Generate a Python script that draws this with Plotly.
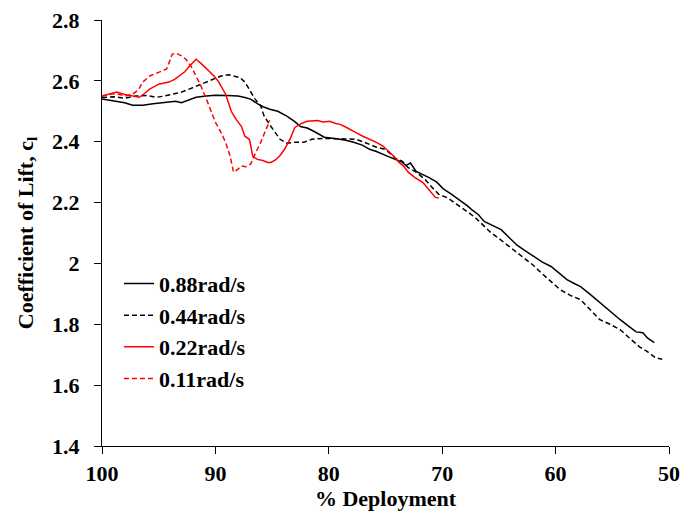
import plotly.graph_objects as go

# 0.88 rad/s (black solid)
x_088 = [100, 99, 98, 97.3, 96.4, 95.5, 94.5, 93.5, 93.0, 92.4, 91.7, 90.8, 90, 89, 88, 87.4, 86.9, 86.3, 85.8, 85.2, 84.5, 83.7, 83.0, 82.5, 81.9, 81.2, 80.4, 79.3, 78.5, 77.8, 77.0, 76.4, 75.8, 75.0, 74.3, 73.5, 73.2, 72.8, 72.3, 71.7, 71.2, 70.5, 69.9, 69.2, 68.5, 67.8, 67.4, 66.8, 66.3, 65.5, 64.8, 64.1, 63.4, 62.6, 61.9, 61.2, 60.4, 59.7, 59.0, 58.4, 57.8, 57.0, 56.1, 55.2, 54.3, 53.6, 52.9, 52.3, 51.9, 51.3]
y_088 = [2.54, 2.535, 2.528, 2.52, 2.52, 2.525, 2.53, 2.533, 2.528, 2.537, 2.546, 2.55, 2.553, 2.552, 2.55, 2.545, 2.54, 2.525, 2.515, 2.507, 2.5, 2.484, 2.466, 2.45, 2.445, 2.432, 2.415, 2.41, 2.405, 2.398, 2.388, 2.375, 2.368, 2.355, 2.345, 2.332, 2.322, 2.33, 2.302, 2.293, 2.283, 2.268, 2.245, 2.228, 2.21, 2.19, 2.177, 2.16, 2.138, 2.125, 2.111, 2.085, 2.06, 2.04, 2.022, 2.005, 1.99, 1.968, 1.947, 1.935, 1.924, 1.9, 1.871, 1.843, 1.815, 1.795, 1.775, 1.772, 1.755, 1.74]

# 0.44 rad/s (black dashed)
x_044 = [100, 99, 98, 97, 96, 95.2, 94.5, 93.8, 93.0, 92.3, 91.5, 90.9, 90.2, 89.5, 88.8, 88.3, 87.8, 87.4, 87.0, 86.5, 86.0, 85.7, 85.1, 84.6, 84.3, 83.7, 83.0, 82.2, 81.5, 80.4, 79.5, 78.7, 77.6, 77.0, 76.4, 75.8, 75.0, 74.5, 74.1, 73.5, 73.0, 72.3, 71.5, 70.9, 70.3, 69.5, 68.9, 68.3, 67.6, 67.1, 66.4, 65.7, 65.0, 64.3, 63.5, 62.8, 62.0, 61.3, 60.5, 59.6, 58.7, 57.8, 57.0, 56.1, 55.2, 54.3, 53.5, 52.6, 51.9, 51.2, 50.6]
y_044 = [2.545, 2.548, 2.543, 2.55, 2.552, 2.546, 2.55, 2.556, 2.563, 2.573, 2.585, 2.596, 2.607, 2.616, 2.62, 2.616, 2.61, 2.596, 2.572, 2.54, 2.517, 2.484, 2.45, 2.425, 2.408, 2.395, 2.398, 2.398, 2.408, 2.411, 2.41, 2.408, 2.408, 2.4, 2.39, 2.382, 2.375, 2.36, 2.345, 2.335, 2.315, 2.30, 2.276, 2.25, 2.227, 2.215, 2.2, 2.184, 2.165, 2.151, 2.125, 2.101, 2.082, 2.062, 2.04, 2.019, 1.995, 1.97, 1.945, 1.914, 1.895, 1.881, 1.85, 1.815, 1.8, 1.782, 1.755, 1.726, 1.71, 1.69, 1.685]

# 0.22 rad/s (red solid)
x_022 = [100, 99.3, 98.7, 98.0, 97.3, 96.7, 96.2, 95.8, 95.0, 94.1, 93.6, 93.2, 92.7, 92.3, 91.9, 91.7, 91.2, 90.6, 90.1, 89.7, 89.1, 88.6, 88.2, 87.7, 87.4, 87.0, 86.7, 86.3, 85.8, 85.4, 85.1, 84.7, 84.3, 83.9, 83.4, 83.0, 82.4, 81.9, 81.0, 80.5, 79.9, 79.4, 79.0, 78.6, 78.2, 77.6, 77.0, 76.4, 75.8, 75.2, 74.7, 74.2, 73.8, 73.4, 73.0, 72.4, 71.7, 71.1, 70.6, 70.3]
y_022 = [2.55, 2.558, 2.563, 2.555, 2.55, 2.546, 2.56, 2.573, 2.589, 2.596, 2.605, 2.616, 2.63, 2.648, 2.662, 2.671, 2.655, 2.632, 2.615, 2.596, 2.556, 2.50, 2.475, 2.45, 2.418, 2.408, 2.352, 2.342, 2.338, 2.332, 2.332, 2.34, 2.355, 2.375, 2.41, 2.447, 2.46, 2.467, 2.47, 2.465, 2.467, 2.46, 2.457, 2.45, 2.441, 2.43, 2.418, 2.408, 2.398, 2.385, 2.368, 2.35, 2.332, 2.32, 2.30, 2.282, 2.266, 2.24, 2.217, 2.215]

# 0.11 rad/s (red dashed)
x_011 = [100, 99.3, 98.7, 98.0, 97.3, 96.8, 96.4, 95.8, 95.0, 94.3, 93.8, 93.4, 93.0, 92.6, 92.1, 91.7, 91.3, 90.9, 90.4, 90.0, 89.5, 89.1, 88.7, 88.4, 88.0, 87.7, 87.3, 86.9, 86.5, 86.0, 85.6, 85.2]
y_011 = [2.55, 2.556, 2.558, 2.55, 2.556, 2.57, 2.596, 2.616, 2.628, 2.639, 2.688, 2.69, 2.682, 2.671, 2.645, 2.616, 2.585, 2.55, 2.505, 2.464, 2.43, 2.398, 2.352, 2.30, 2.31, 2.32, 2.318, 2.326, 2.36, 2.398, 2.435, 2.47]

series = [
    ("0.88rad/s", x_088, y_088, "black", "solid"),
    ("0.44rad/s", x_044, y_044, "black", "5px,3px"),
    ("0.22rad/s", x_022, y_022, "#ff0000", "solid"),
    ("0.11rad/s", x_011, y_011, "#ff0000", "5px,3px"),
]

y_ticks = [1.4, 1.6, 1.8, 2.0, 2.2, 2.4, 2.6, 2.8]
y_tick_labels = ["1.4", "1.6", "1.8", "2", "2.2", "2.4", "2.6", "2.8"]
x_ticks = [100, 90, 80, 70, 60, 50]
x_tick_labels = ["100", "90", "80", "70", "60", "50"]

FAM = "Liberation Serif"
SZ = 22

fig = go.Figure()
for name, xs, ys, col, dash in series:
    fig.add_trace(go.Scatter(x=xs, y=ys, mode="lines", name="<b>%s</b>" % name,
                             line=dict(color=col, width=1.5, dash=dash)))

fig.update_layout(
    width=694, height=511,
    margin=dict(l=102, r=25, t=20, b=65),
    paper_bgcolor="white", plot_bgcolor="white",
    font=dict(family=FAM, size=SZ, color="black"),
    showlegend=True,
    legend=dict(x=0.03, y=0.43, xanchor="left", yanchor="top",
                bgcolor="rgba(0,0,0,0)", font=dict(family=FAM, size=22, color="black"),
                tracegroupgap=0, itemwidth=30),
    xaxis=dict(range=[100, 50], tickvals=x_ticks, ticktext=["<b>%s</b>" % t for t in x_tick_labels],
               showgrid=False, zeroline=False, automargin=False,
               showline=True, linecolor="black", linewidth=1.2,
               ticks="outside", ticklen=7, tickcolor="black", tickwidth=1.2,
               ticklabelstandoff=0,
               tickfont=dict(family=FAM, size=SZ, color="black"),
               title=dict(text="<b>% Deployment</b>", standoff=8,
                          font=dict(family=FAM, size=SZ, color="black"))),
    yaxis=dict(range=[1.4, 2.8], tickvals=y_ticks, ticktext=["<b>%s</b>" % t for t in y_tick_labels],
               showgrid=False, zeroline=False, automargin=False,
               showline=True, linecolor="black", linewidth=1.2,
               ticks="outside", ticklen=7, tickcolor="black", tickwidth=1.2,
               ticklabelstandoff=10,
               tickfont=dict(family=FAM, size=SZ, color="black"),
               title=dict(text="<b>Coefficient of Lift, c<sub>l</sub></b>", standoff=12,
                          font=dict(family=FAM, size=SZ, color="black"))),
)

fig.write_html("out.html", config={"displayModeBar": False},
               post_script="document.body.style.margin='0';document.body.style.padding='0';")
